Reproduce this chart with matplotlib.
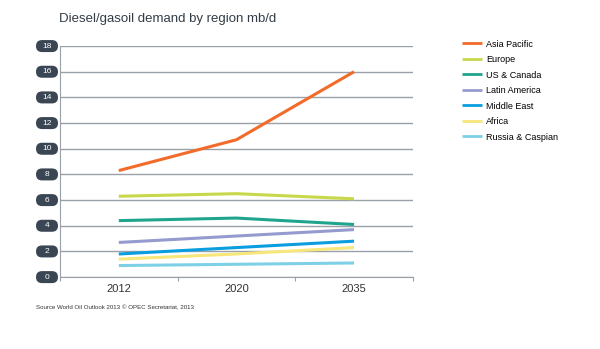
import matplotlib.pyplot as plt
from matplotlib.patches import FancyBboxPatch
from matplotlib.transforms import IdentityTransform

plt.rcParams['font.family'] = ['Liberation Sans', 'DejaVu Sans']

years = ["2012", "2020", "2035"]
regions = ["Asia Pacific", "Europe", "US & Canada", "Latin America",
           "Middle East", "Africa", "Russia & Caspian"]
asia_pacific = [8.3, 10.7, 16.0]
europe = [6.3, 6.5, 6.1]
us_canada = [4.4, 4.6, 4.1]
latin_america = [2.7, 3.2, 3.7]
middle_east = [1.8, 2.3, 2.8]
africa = [1.4, 1.8, 2.3]
russia_caspian = [0.9, 1.0, 1.1]
yticks = [0, 2, 4, 6, 8, 10, 12, 14, 16, 18]

series = [asia_pacific, europe, us_canada, latin_america, middle_east, africa, russia_caspian]
colors = ["#f26b2a", "#c8d84a", "#1fa58e", "#959acf", "#0a9ee0", "#f7e67a", "#7dd0e6"]

fig = plt.figure(figsize=(6, 3.49), dpi=100)
ax = fig.add_axes([0.1, 0.206, 0.588, 0.662])

xpos = [0.5, 1.5, 2.5]
for vals, c, name in zip(series, colors, regions):
    ax.plot(xpos, vals, color=c, lw=2.2, label=name, solid_capstyle='butt')

ax.set_xlim(0, 3)
ax.set_ylim(0, 18)
ax.set_yticks(yticks)
ax.yaxis.grid(True, color="#9aa0a8", lw=1)
ax.set_axisbelow(True)
ax.set_xticks([0, 1, 2, 3])
ax.set_xticklabels([])
ax.set_xticks(xpos, minor=True)
ax.set_xticklabels(years, minor=True, fontsize=8, color="#333333")
ax.tick_params(axis='x', which='minor', length=0, pad=5)
ax.tick_params(axis='x', which='major', length=3, color="#9aa0a8", direction='out')
for s in ["top", "right"]:
    ax.spines[s].set_visible(False)
for s in ["left", "bottom"]:
    ax.spines[s].set_color("#9aa0a8")
ax.set_yticklabels([])
ax.tick_params(axis='y', length=0)

# pill-shaped tick label boxes (22 x 12 px)
bw, r = 22, 6
for t in yticks:
    px, py = ax.transData.transform((0, t))
    cx = px - 13
    box = FancyBboxPatch((cx - bw / 2 + r, py), bw - 2 * r, 0,
                         boxstyle="round,pad=%d,rounding_size=%d" % (r, r),
                         fc="#3a4654", ec="none", transform=IdentityTransform())
    fig.add_artist(box)
    fig.text(cx, py, str(t), transform=IdentityTransform(), ha='center', va='center',
             fontsize=6, color="white")

fig.text(0.098, 0.945, "Diesel/gasoil demand by region mb/d", fontsize=9.5, color="#333d47", va='center')

leg = fig.legend(loc='upper left', bbox_to_anchor=(0.756, 0.91), frameon=False, fontsize=6.5,
                 handlelength=2.2, labelspacing=0.72, handletextpad=0.5)
for line in leg.get_lines():
    line.set_linewidth(2)

fig.text(0.06, 0.12, "Source World Oil Outlook 2013 \u00a9 OPEC Secretariat, 2013", fontsize=4.4, color="#333333", va='center')

fig.savefig("out.png", dpi=100)
